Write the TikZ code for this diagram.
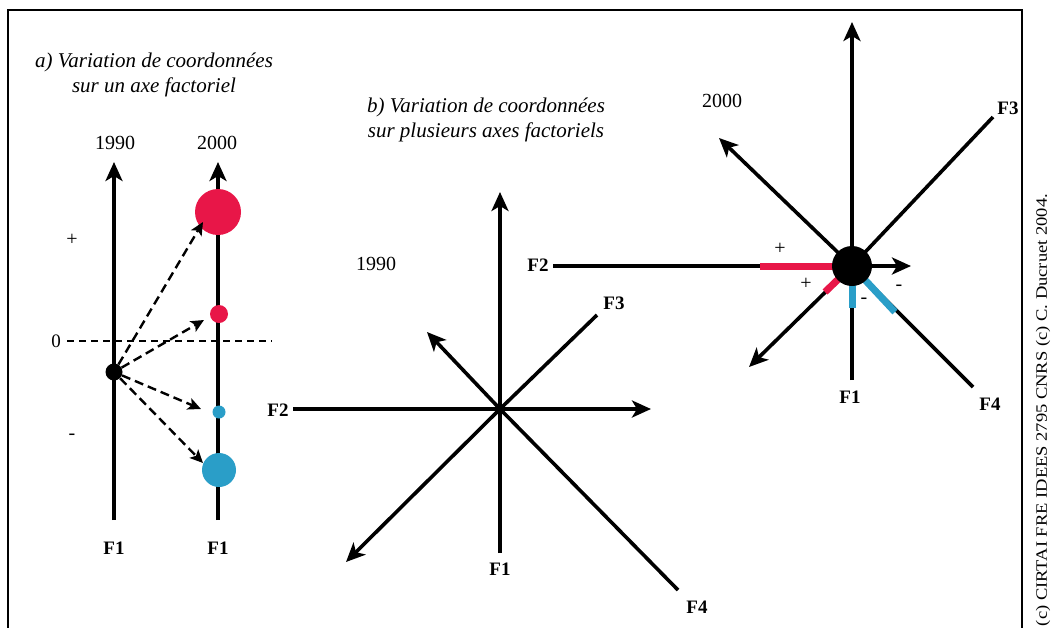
\documentclass[tikz,border=0pt]{standalone}
\usepackage{fontspec}
\setmainfont{Liberation Serif}
\usetikzlibrary{arrows.meta}
\definecolor{cred}{RGB}{232,22,72}
\definecolor{cblue}{RGB}{42,158,200}
\tikzset{
  axisarrow/.style={line width=3.6pt, -{Stealth[length=19pt,width=17pt,inset=5pt]}},
  axisline/.style={line width=3.6pt},
  flabel/.style={font=\fontsize{19}{19}\selectfont\bfseries, inner sep=1pt},
  yearlabel/.style={font=\fontsize{20}{20}\selectfont, inner sep=1pt},
  titlelabel/.style={font=\fontsize{21}{25}\selectfont\itshape, align=center, inner sep=0pt},
  signlabel/.style={font=\fontsize{20}{20}\selectfont, inner sep=0pt},
  dasharrow/.style={line width=2.4pt, dash pattern=on 9pt off 5pt, -{Stealth[length=13pt,width=12pt,inset=3pt]}},
  colseg/.style={line width=7pt},
  dotnode/.style={circle, fill=black, inner sep=0pt, minimum size=#1},
  bubble/.style={circle, fill=#1, inner sep=0pt}
}
\begin{document}
\begin{tikzpicture}[x=1pt,y=-1pt]
\useasboundingbox (0,0) rectangle (1058,627);
\fill[white] (0,0) rectangle (1058,627);
% frame
\draw[line width=2.2pt] (8,640) -- (8,10) -- (1022,10) -- (1022,640);
% copyright
\node[rotate=90, inner sep=0pt] (copy) at (1043,410) {\resizebox{432pt}{11pt}{(c) CIRTAI FRE IDEES 2795 CNRS (c) C. Ducruet 2004.}};

% ---------- part a ----------
\node[titlelabel] (ta) at (154,75) {a) Variation de coordonnées\\sur un axe factoriel};
\node[yearlabel] (ya1) at (115,143) {1990};
\node[yearlabel] (ya2) at (217,143) {2000};
\coordinate (a1top) at (114,162);
\coordinate (a1bot) at (114,520);
\coordinate (a2top) at (218,162);
\coordinate (a2bot) at (218,520);
\node[flabel] (fa1) at (114,548) {F1};
\node[flabel] (fa2) at (218,548) {F1};
\draw[axisarrow] (a1bot) -- (a1top);
\draw[axisarrow] (a2bot) -- (a2top);
% zero line
\node[font=\fontsize{19}{19}\selectfont, inner sep=0pt] (zero) at (56,341) {0};
\coordinate (z0) at (67,341);
\coordinate (z1) at (272,341);
\draw[line width=1.2pt, dash pattern=on 7pt off 5pt] (z0) -- (z1);
\node[signlabel] (plusa) at (72,240) {+};
\node[signlabel] (minusa) at (72,437) {-};
% bubbles
\node[bubble=cred, minimum size=46pt] (rbig) at (218,212) {};
\node[bubble=cred, minimum size=18pt] (rsmall) at (219,314) {};
\node[bubble=cblue, minimum size=13pt] (bsmall) at (219,412) {};
\node[bubble=cblue, minimum size=34pt] (bbig) at (219,470) {};
\node[dotnode=17pt] (dota) at (114,372) {};
\coordinate (t1) at (203,222);
\coordinate (t2) at (204,320);
\coordinate (t3) at (201,409);
\coordinate (t4) at (203,463);
\draw[dasharrow] (dota) -- (t1);
\draw[dasharrow] (dota) -- (t2);
\draw[dasharrow] (dota) -- (t3);
\draw[dasharrow] (dota) -- (t4);

% ---------- part b : 1990 ----------
\node[titlelabel] (tb) at (486,120) {b) Variation de coordonnées\\sur plusieurs axes factoriels};
\node[yearlabel] (yb1) at (376,264) {1990};
\coordinate (c1) at (500,409);
\coordinate (c1up) at (500,192);
\coordinate (c1dn) at (500,553);
\coordinate (c1l) at (293,409);
\coordinate (c1r) at (651,409);
\coordinate (c1ul) at (427,332);
\coordinate (c1ur) at (597,315);
\coordinate (c1dl) at (346,562);
\coordinate (c1dr) at (678,590);
\node[flabel] (b1f1) at (500,569) {F1};
\node[flabel] (b1f2) at (278,410) {F2};
\node[flabel] (b1f3) at (614,303) {F3};
\node[flabel] (b1f4) at (697,607) {F4};
\draw[axisline] (c1dn) -- (c1);
\draw[axisarrow] (c1) -- (c1up);
\draw[axisline] (c1l) -- (c1);
\draw[axisarrow] (c1) -- (c1r);
\draw[axisarrow] (c1) -- (c1ul);
\draw[axisarrow] (c1) -- (c1dl);
\draw[axisline] (c1) -- (c1ur);
\draw[axisline] (c1) -- (c1dr);
\node[dotnode=11pt] (dotb1) at (c1) {};

% ---------- part b : 2000 ----------
\node[yearlabel] (yb2) at (722,101) {2000};
\coordinate (c2) at (852,266);
\coordinate (c2up) at (852,22);
\coordinate (c2dn) at (852,380);
\coordinate (c2l) at (553,266);
\coordinate (c2r) at (911,266);
\coordinate (c2ul) at (719,138);
\coordinate (c2ur) at (993,117);
\coordinate (c2dl) at (749,367);
\coordinate (c2dr) at (973,387);
\node[flabel] (b2f1) at (850,397) {F1};
\node[flabel] (b2f2) at (538,265) {F2};
\node[flabel] (b2f3) at (1008,108) {F3};
\node[flabel] (b2f4) at (990,404) {F4};
\draw[axisline] (c2dn) -- (c2);
\draw[axisarrow] (c2) -- (c2up);
\draw[axisline] (c2l) -- (c2);
\draw[axisarrow] (c2) -- (c2r);
\draw[axisarrow] (c2) -- (c2ul);
\draw[axisarrow] (c2) -- (c2dl);
\draw[axisline] (c2) -- (c2ur);
\draw[axisline] (c2) -- (c2dr);
% coloured segments
\coordinate (s1) at (760,266);
\coordinate (s2) at (825,292);
\coordinate (s3) at (852,308);
\coordinate (s4) at (895,312);
\draw[colseg, cred] (s1) -- (c2);
\draw[colseg, cred] (s2) -- (c2);
\draw[colseg, cblue] (s3) -- (c2);
\draw[colseg, cblue] (s4) -- (c2);
\node[dotnode=40pt] (dotb2) at (c2) {};
\node[signlabel] (p1) at (780,249) {+};
\node[signlabel] (p2) at (806,284) {+};
\node[signlabel] (m1) at (864,301) {-};
\node[signlabel] (m2) at (899,288) {-};
\end{tikzpicture}
\end{document}
